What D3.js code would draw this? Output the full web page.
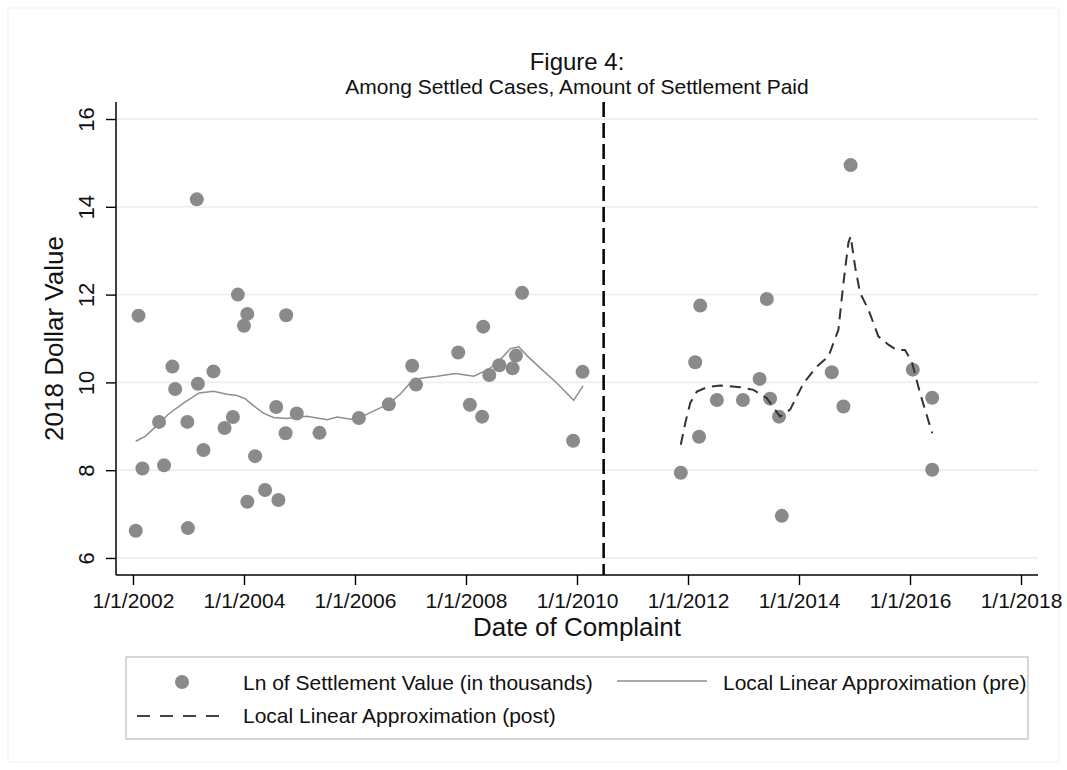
<!DOCTYPE html>
<html>
<head>
<meta charset="utf-8">
<script src="https://cdn.jsdelivr.net/npm/d3@7"></script>
<style>
  html, body { margin: 0; padding: 0; background: #fff; }
  svg { display: block; font-family: "Liberation Sans", Arial, Helvetica, sans-serif; }
</style>
</head>
<body>
<svg id="chart" width="1067" height="770"></svg>
<script>
// ---------------- DATA ----------------
// Dates are decimal years; values are Ln of settlement value (thousands)
const preDates = [2002.05, 2002.10, 2002.17, 2002.47, 2002.56, 2002.71, 2002.76, 2002.98, 2002.99,
  2003.15, 2003.17, 2003.27, 2003.45, 2003.65, 2003.80, 2003.89, 2004.00, 2004.06, 2004.06,
  2004.20, 2004.38, 2004.58, 2004.62, 2004.75, 2004.76, 2004.95, 2005.36, 2006.07, 2006.61,
  2007.03, 2007.10, 2007.86, 2008.07, 2008.29, 2008.31, 2008.42, 2008.60, 2008.84, 2008.90,
  2009.01, 2009.93, 2010.10];
const preValues = [6.62, 11.52, 8.04, 9.10, 8.11, 10.36, 9.85, 9.10, 6.68,
  14.17, 9.97, 8.46, 10.25, 8.96, 9.21, 12.00, 11.29, 11.56, 7.28,
  8.32, 7.55, 9.44, 7.32, 8.84, 11.53, 9.29, 8.85, 9.19, 9.50,
  10.38, 9.95, 10.68, 9.49, 9.22, 11.27, 10.17, 10.39, 10.32, 10.61,
  12.04, 8.67, 10.24];

const postDates = [2011.87, 2012.13, 2012.20, 2012.22, 2012.52, 2012.99, 2013.29, 2013.42, 2013.48,
  2013.64, 2013.69, 2014.59, 2014.80, 2014.93, 2016.05, 2016.40, 2016.40];
const postValues = [7.94, 10.46, 8.76, 11.75, 9.60, 9.60, 10.08, 11.90, 9.63,
  9.22, 6.96, 10.23, 9.45, 14.95, 10.29, 9.65, 8.01];

const preFitDates = [2002.05, 2002.22, 2002.47, 2002.64, 2002.91, 2003.19, 2003.45, 2003.69, 2003.87,
  2004.02, 2004.17, 2004.35, 2004.53, 2004.77, 2005.13, 2005.50, 2005.68, 2005.92, 2006.08,
  2006.34, 2006.61, 2006.82, 2007.03, 2007.21, 2007.48, 2007.81, 2008.14, 2008.41, 2008.62,
  2008.80, 2008.95, 2009.10, 2009.31, 2009.64, 2009.94, 2010.11];
const preFitValues = [8.66, 8.77, 9.06, 9.28, 9.53, 9.76, 9.80, 9.73, 9.70,
  9.63, 9.47, 9.30, 9.20, 9.18, 9.23, 9.15, 9.21, 9.16, 9.19,
  9.35, 9.51, 9.74, 10.04, 10.10, 10.14, 10.20, 10.14, 10.30, 10.52,
  10.77, 10.81, 10.61, 10.36, 9.98, 9.59, 9.92];

const postFitDates = [2011.87, 2011.95, 2012.04, 2012.16, 2012.34, 2012.58, 2012.94, 2013.18, 2013.42,
  2013.66, 2013.84, 2014.08, 2014.32, 2014.53, 2014.71, 2014.80, 2014.89, 2014.93, 2015.01,
  2015.10, 2015.25, 2015.43, 2015.61, 2015.76, 2015.91, 2016.03, 2016.18, 2016.40];
const postFitValues = [8.58, 9.07, 9.53, 9.79, 9.89, 9.93, 9.89, 9.83, 9.64,
  9.22, 9.38, 9.98, 10.36, 10.59, 11.20, 12.26, 13.18, 13.33, 12.64,
  12.04, 11.66, 11.05, 10.86, 10.74, 10.74, 10.48, 9.76, 8.84];

const cutoffDate = 2010.48;

const xTicks = [2002, 2004, 2006, 2008, 2010, 2012, 2014, 2016, 2018];
const yTicks = [6, 8, 10, 12, 14, 16];

const titleText = "Figure 4:";
const subtitleText = "Among Settled Cases, Amount of Settlement Paid";
const xTitle = "Date of Complaint";
const yTitle = "2018 Dollar Value";
const legendLabels = ["Ln of Settlement Value (in thousands)", "Local Linear Approximation (pre)", "Local Linear Approximation (post)"];

// ---------------- LAYOUT ----------------
const svg = d3.select("#chart");
const W = 1067, H = 770;
const plot = { left: 116, right: 1038, top: 102, bottom: 575 };

const x = d3.scaleLinear().domain([2001.694, 2018.306]).range([plot.left, plot.right]);
const y = d3.scaleLinear().domain([5.612, 16.388]).range([plot.bottom, plot.top]);

const pointColor = "#8a8a8a";
const preLineColor = "#8e8e8e";
const postLineColor = "#333333";
const gridColor = "#e9f0f2";

// outer frame
svg.append("rect").attr("x", 8).attr("y", 8).attr("width", W - 16).attr("height", H - 16)
  .attr("fill", "#fff").attr("stroke", "#eef2f3").attr("stroke-width", 1.2);

// gridlines
svg.append("g").selectAll("line").data(yTicks).join("line")
  .attr("x1", plot.left).attr("x2", plot.right)
  .attr("y1", d => y(d)).attr("y2", d => y(d))
  .attr("stroke", gridColor).attr("stroke-width", 1.8);

// axes
const xAxis = d3.axisBottom(x).tickValues(xTicks).tickSize(10).tickPadding(8)
  .tickFormat(d => "1/1/" + d);
const gx = svg.append("g").attr("transform", `translate(0,${plot.bottom})`).call(xAxis);
gx.select(".domain").attr("d", `M${plot.left},0H${plot.right}`).attr("stroke", "#000").attr("stroke-width", 1.5);
gx.selectAll(".tick line").attr("stroke", "#000").attr("stroke-width", 1.4);
gx.selectAll(".tick text").attr("font-size", 21).attr("fill", "#111")
  .attr("font-family", "Liberation Sans, Arial, sans-serif").attr("dy", "0.71em");

const yAxis = d3.axisLeft(y).tickValues(yTicks).tickSize(10).tickPadding(0);
const gy = svg.append("g").attr("transform", `translate(${plot.left},0)`).call(yAxis);
gy.select(".domain").attr("d", `M0,${plot.top}V${plot.bottom}`).attr("stroke", "#000").attr("stroke-width", 1.5);
gy.selectAll(".tick line").attr("stroke", "#000").attr("stroke-width", 1.4);
gy.selectAll(".tick text")
  .attr("font-size", 22).attr("fill", "#111")
  .attr("font-family", "Liberation Sans, Arial, sans-serif")
  .attr("x", null).attr("dy", null)
  .attr("text-anchor", "middle")
  .attr("transform", "translate(-22,0) rotate(-90)");

// axis titles
svg.append("text").attr("x", (plot.left + plot.right) / 2).attr("y", 636)
  .attr("text-anchor", "middle").attr("font-size", 26).attr("fill", "#111").text(xTitle);
svg.append("text").attr("transform", `translate(63,${(plot.top + plot.bottom) / 2}) rotate(-90)`)
  .attr("text-anchor", "middle").attr("font-size", 26).attr("fill", "#111").text(yTitle);

// titles
svg.append("text").attr("x", (plot.left + plot.right) / 2).attr("y", 70)
  .attr("text-anchor", "middle").attr("font-size", 24).attr("fill", "#111").text(titleText);
svg.append("text").attr("x", (plot.left + plot.right) / 2).attr("y", 94)
  .attr("text-anchor", "middle").attr("font-size", 21).attr("fill", "#111").text(subtitleText);

// cutoff line
svg.append("line").attr("x1", x(cutoffDate)).attr("x2", x(cutoffDate))
  .attr("y1", plot.top).attr("y2", plot.bottom)
  .attr("stroke", "#000").attr("stroke-width", 2.5).attr("stroke-dasharray", "15,6");

// points
const points = preDates.map((d, i) => ({ d, v: preValues[i] }))
  .concat(postDates.map((d, i) => ({ d, v: postValues[i] })));
svg.append("g").selectAll("circle").data(points).join("circle")
  .attr("cx", p => x(p.d)).attr("cy", p => y(p.v)).attr("r", 7).attr("fill", pointColor);

// fitted lines
const line = d3.line().x(p => x(p.d)).y(p => y(p.v));
const preFit = preFitDates.map((d, i) => ({ d, v: preFitValues[i] }));
const postFit = postFitDates.map((d, i) => ({ d, v: postFitValues[i] }));
svg.append("path").datum(preFit).attr("d", line).attr("fill", "none")
  .attr("stroke", preLineColor).attr("stroke-width", 1.5);
svg.append("path").datum(postFit).attr("d", line).attr("fill", "none")
  .attr("stroke", postLineColor).attr("stroke-width", 2).attr("stroke-dasharray", "11,7");

// legend
const lg = svg.append("g");
lg.append("rect").attr("x", 126).attr("y", 657).attr("width", 902).attr("height", 82)
  .attr("fill", "#fff").attr("stroke", "#bdbdbd").attr("stroke-width", 1.2);
lg.append("circle").attr("cx", 182).attr("cy", 682).attr("r", 7).attr("fill", pointColor);
lg.append("text").attr("x", 243).attr("y", 690).attr("font-size", 21).attr("fill", "#111").text(legendLabels[0]);
lg.append("line").attr("x1", 617).attr("x2", 707).attr("y1", 681).attr("y2", 681)
  .attr("stroke", preLineColor).attr("stroke-width", 1.5);
lg.append("text").attr("x", 723).attr("y", 690).attr("font-size", 21).attr("fill", "#111").text(legendLabels[1]);
lg.append("line").attr("x1", 137).attr("x2", 221).attr("y1", 716).attr("y2", 716)
  .attr("stroke", "#444").attr("stroke-width", 2).attr("stroke-dasharray", "13,10");
lg.append("text").attr("x", 243).attr("y", 723).attr("font-size", 21).attr("fill", "#111").text(legendLabels[2]);
</script>
</body>
</html>
